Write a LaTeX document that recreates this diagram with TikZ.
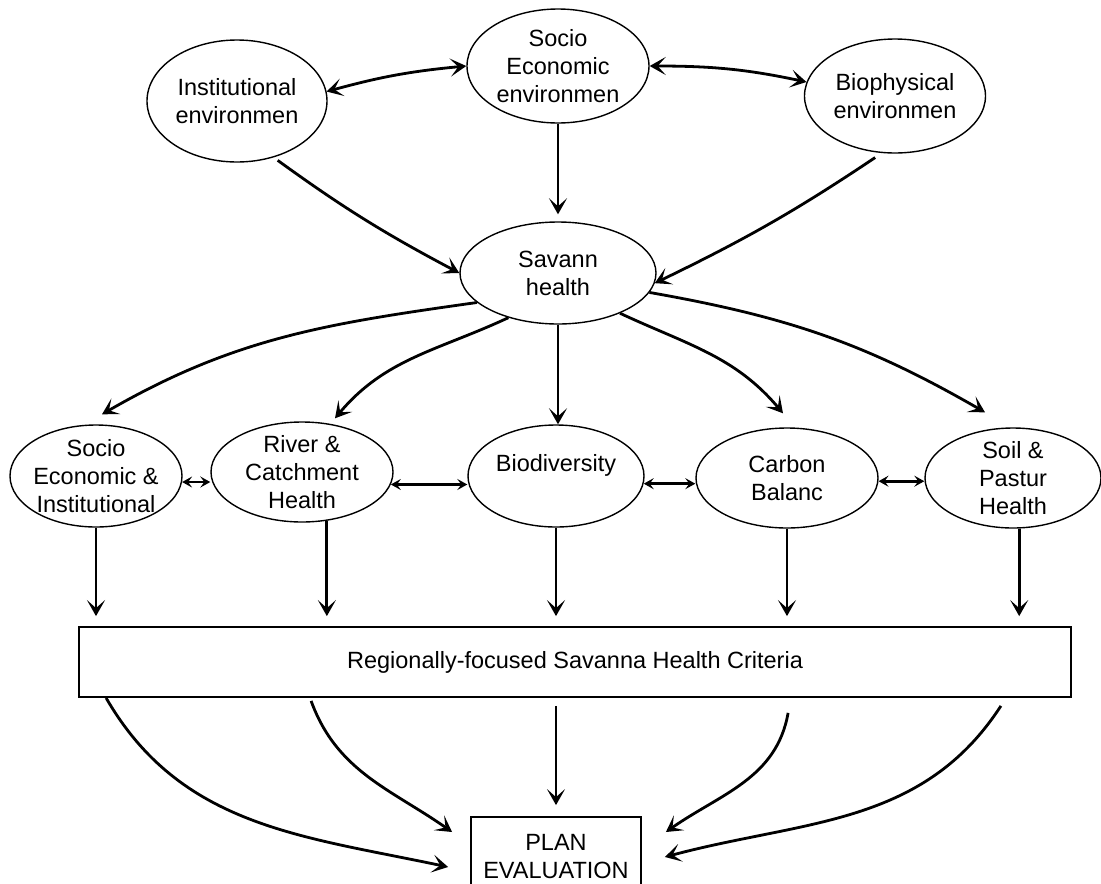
\documentclass[tikz,border=0pt]{standalone}
\usepackage{fontspec}
\setmainfont{Liberation Sans}
\usetikzlibrary{shapes.geometric,arrows.meta,calc}
\begin{document}
\begin{tikzpicture}[x=1pt,y=1pt,
  ell/.style={ellipse,draw,line width=1.4pt,inner sep=0pt},
  txt/.style={align=center,font=\fontsize{23.5}{28}\selectfont,inner sep=0pt},
  box/.style={rectangle,draw,line width=1.8pt,inner sep=0pt,align=center,font=\fontsize{23.5}{28}\selectfont},
  arr/.style={line width=2.8pt,-{Stealth[length=16pt,width=18pt,inset=8pt]}},
  darr/.style={line width=2.8pt,{Stealth[length=16pt,width=18pt,inset=8pt]}-{Stealth[length=16pt,width=18pt,inset=8pt]}},
  sarr/.style={line width=2.6pt,{Stealth[length=10pt,width=11pt,inset=4pt]}-{Stealth[length=10pt,width=11pt,inset=4pt]}},
]
\useasboundingbox (0,0) rectangle (1101,-884);

% top row
\node[ell,minimum width=180pt,minimum height=122pt,label={[txt]center:{Institutional\\environmen}}] (inst) at (237,-101) {};
\node[ell,minimum width=182pt,minimum height=114pt,label={[txt]center:{Socio\\Economic\\environmen}}] (soc) at (558,-66) {};
\node[ell,minimum width=181pt,minimum height=114pt,label={[txt]center:{Biophysical\\environmen}}] (bio) at (895,-96) {};
% centre
\node[ell,minimum width=196pt,minimum height=102pt,label={[txt]center:{Savann\\health}}] (sav) at (558,-273) {};
% bottom row
\node[ell,minimum width=172pt,minimum height=102pt,label={[txt]center:{Socio\\Economic \&\\Institutional}}] (sei) at (96,-476) {};
\node[ell,minimum width=182pt,minimum height=100pt,label={[txt]center:{River \&\\Catchment\\Health}}] (riv) at (302,-472) {};
\node[ell,minimum width=176pt,minimum height=102pt,label={[txt,yshift=11pt]center:{Biodiversity}}] (biod) at (556,-476) {};
\node[ell,minimum width=182pt,minimum height=100pt,label={[txt]center:{Carbon\\Balanc}}] (carb) at (787,-478) {};
\node[ell,minimum width=176pt,minimum height=100pt,label={[txt]center:{Soil \&\\Pastur\\Health}}] (soil) at (1013,-478) {};
% boxes
\node[box,minimum width=992pt,minimum height=70pt] (crit) at (575,-662) {Regionally-focused Savanna Health Criteria};
\node[box,minimum width=170pt,minimum height=80pt] (plan) at (556,-857) {PLAN\\EVALUATION};

% top connectors
\draw[darr] (inst.6) to[bend left=5] (soc.west);
\draw[darr] (soc.east) to[out=0,in=168] (bio.171);
\draw[arr,shorten <=5pt] (inst.-57) to[bend right=4] (sav.west);
\draw[arr,shorten >=7pt] (soc.south) -- (sav.north);
\draw[arr,shorten <=8pt] (bio.257) to[bend left=4] (sav.-6);

% from savanna health
\draw[arr] (sav.200) to[out=188,in=30] ($(sei.north)+(6,10)$);
\draw[arr] (sav.222) to[out=205,in=50] ($(riv.north)+(33,3)$);
\draw[arr] (sav.south) -- (sav.south |- biod.north);
\draw[arr] (sav.-33) to[out=-25,in=130] ($(carb.north)+(-4,14)$);
\draw[arr] (sav.-12) to[out=-10,in=150] ($(soil.north)+(-28,15)$);

% between bottom ellipses
\draw[sarr] (sei.-4) -- (sei.-4 -| riv.west);
\draw[sarr] (riv.-8) -- (riv.-8 -| biod.west);
\draw[sarr] (biod.-5) -- (biod.-5 -| carb.west);
\draw[sarr] (carb.-2) -- (carb.-2 -| soil.west);

% down to criteria
\draw[arr,shorten >=10pt] (sei.south) -- (sei.south |- crit.north);
\draw[arr,shorten >=10pt] (riv.-63) -- (riv.-63 |- crit.north);
\draw[arr,shorten >=10pt] (biod.south) -- (biod.south |- crit.north);
\draw[arr,shorten >=10pt] (carb.south) -- (carb.south |- crit.north);
\draw[arr,shorten >=10pt] (soil.-83) -- (soil.-83 |- crit.north);

% criteria to plan evaluation
\draw[arr] ($(crit.south west)+(28,0)$) to[out=-60,in=168] ($(plan.west)+(-22,-10)$);
\draw[arr] ($(crit.south west)+(233,-3)$) to[out=-70,in=145] ($(plan.west)+(-18,25)$);
\draw[arr,shorten >=11pt] ($(plan.north |- crit.south)+(0,-8)$) -- (plan.north);
\draw[arr] ($(crit.south west)+(710,-15)$) to[out=-100,in=35] ($(plan.east)+(24,25)$);
\draw[arr] ($(crit.south east)+(-71,-8)$) to[out=237,in=15] ($(plan.east)+(23,0)$);
\end{tikzpicture}
\end{document}
